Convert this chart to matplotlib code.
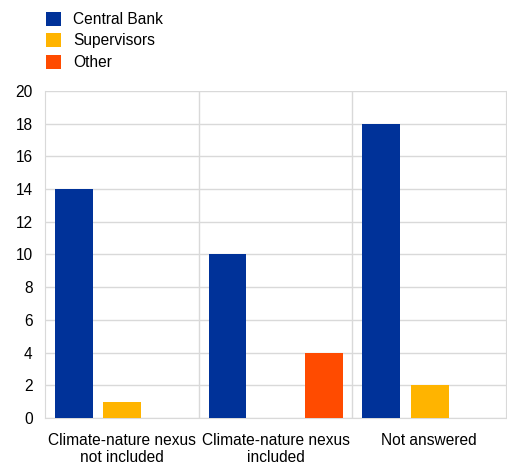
import numpy as np
import matplotlib.pyplot as plt

plt.rcParams['font.family'] = ['Liberation Sans', 'DejaVu Sans']

categories = ['Climate-nature nexus\nnot included', 'Climate-nature nexus\nincluded', 'Not answered']
series = ['Central Bank', 'Supervisors', 'Other']
central_bank = [14, 10, 18]
supervisors = [1, 0, 2]
other = [0, 4, 0]
colors = ['#003299', '#ffb400', '#ff4b00']

fig = plt.figure(figsize=(5.07, 4.66), dpi=100)
ax = fig.add_axes([0.0888, 0.103, 0.909, 0.702])

x = np.arange(len(categories))
offsets = [-0.312, 0.003, 0.318]
width = 0.247
for vals, off, c, name in zip([central_bank, supervisors, other], offsets, colors, series):
    ax.bar(x + off, vals, width, color=c, label=name, zorder=3)

ax.set_xlim(-0.5, 2.5)
ax.set_ylim(0, 20)
ax.set_yticks(range(0, 21, 2))
ax.set_xticks(x)
ax.set_xticklabels(categories, linespacing=1.15)
ax.tick_params(axis='both', length=0, labelsize=11.2, colors='#000000')
ax.tick_params(axis='x', pad=11)
ax.tick_params(axis='y', pad=9)
ax.yaxis.grid(True, color='#d9d9d9', linewidth=1, zorder=0)
for b in [0.5, 1.5]:
    ax.axvline(b, color='#d9d9d9', linewidth=1, zorder=0)
ax.spines['top'].set_visible(False)
for s in ['left', 'right', 'bottom']:
    ax.spines[s].set_color('#d9d9d9')

handles, labels = ax.get_legend_handles_labels()
fig.legend(handles, labels, loc='upper left', bbox_to_anchor=(0.072, 0.995),
           frameon=False, fontsize=11.2, handlelength=1.0, handleheight=1.0,
           handletextpad=0.75, labelspacing=0.4, borderaxespad=0.2)

fig.savefig('out.png', dpi=100)
